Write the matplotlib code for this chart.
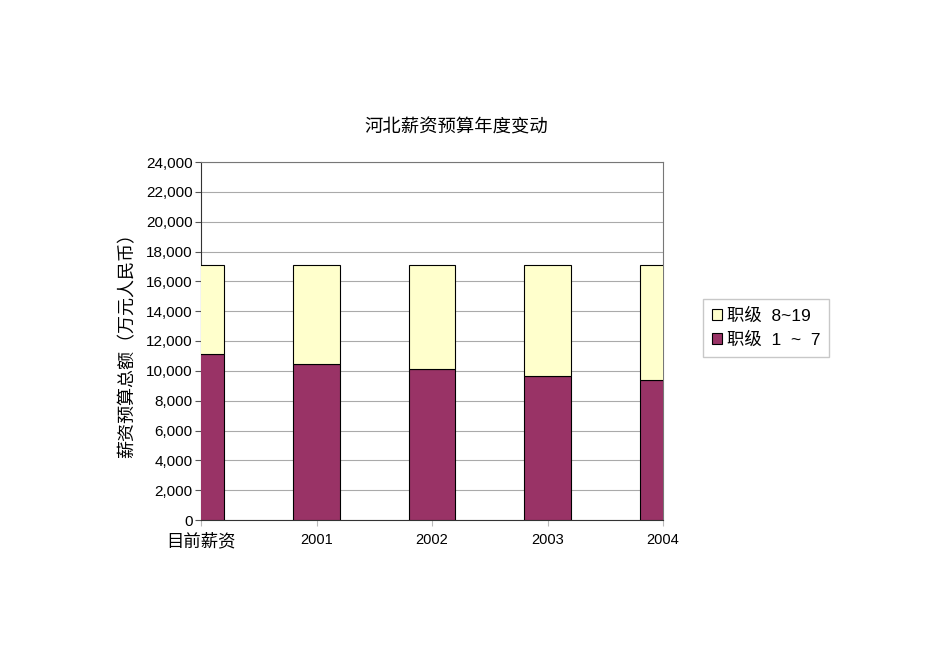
import matplotlib
matplotlib.use("Agg")
import matplotlib.pyplot as plt
from matplotlib.ticker import FuncFormatter, MultipleLocator

plt.rcParams["font.family"] = ["Liberation Sans", "Noto Sans CJK SC"]

categories = ["目前薪资", "2001", "2002", "2003", "2004"]
grade_1_7 = [11100, 10450, 10120, 9650, 9360]
grade_8_19 = [6000, 6650, 6980, 7450, 7740]

fig = plt.figure(figsize=(9.5, 6.72), dpi=100)
ax = fig.add_axes([201 / 950, 1 - 520 / 672, 462 / 950, 358 / 672])

x = list(range(len(categories)))
ax.bar(x, grade_1_7, width=0.4, color="#993366", edgecolor="black", linewidth=0.8,
       label="职级  1  ~  7", zorder=3)
ax.bar(x, grade_8_19, width=0.4, bottom=grade_1_7, color="#FFFFCC", edgecolor="black",
       linewidth=0.8, label="职级  8~19", zorder=3)

ax.set_xlim(0, len(categories) - 1)
ax.set_ylim(0, 24000)
ax.yaxis.set_major_locator(MultipleLocator(2000))
ax.yaxis.set_major_formatter(FuncFormatter(lambda v, p: f"{int(v):,}"))
ax.set_xticks(x)
ax.set_xticklabels(categories)
for lbl in ax.get_xticklabels():
    lbl.set_fontsize(12.5 if lbl.get_text() == "目前薪资" else 10.5)
ax.tick_params(axis="y", labelsize=11, length=4, color="#555555", pad=2)
ax.tick_params(axis="x", length=4, color="#bbbbbb", pad=5)

ax.grid(axis="y", color="#aaaaaa", linewidth=0.8, zorder=0)
for side in ["left", "bottom"]:
    ax.spines[side].set_color("#333333")
for side in ["top", "right"]:
    ax.spines[side].set_color("#777777")

ax.set_ylabel("薪资预算总额（万元人民币）", fontsize=13, labelpad=7)

fig.text(456 / 950, 1 - 128 / 672, "河北薪资预算年度变动", fontsize=13.2,
         ha="center", va="center")

handles, labels = ax.get_legend_handles_labels()
leg = fig.legend(handles[::-1], labels[::-1], loc="upper left",
                 bbox_to_anchor=(703 / 950, 1 - 299 / 672), fontsize=12.5,
                 frameon=True, fancybox=False, edgecolor="#bbbbbb",
                 handlelength=0.6, handleheight=0.6, handletextpad=0.3,
                 borderpad=0.5, labelspacing=0.45, borderaxespad=0)

fig.savefig("out.png", dpi=100)
